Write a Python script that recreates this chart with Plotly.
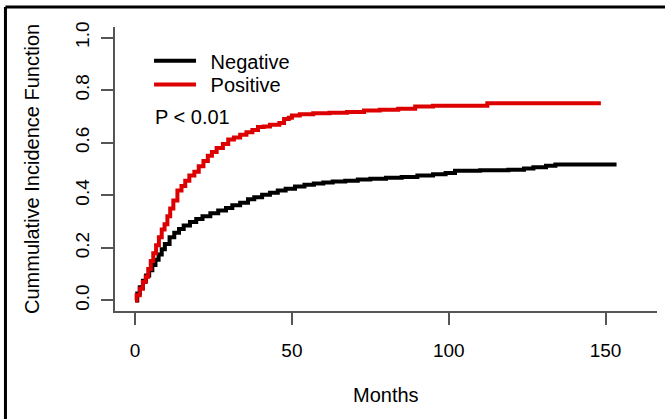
import plotly.graph_objects as go

# Cumulative incidence step curves (months, CIF)
neg_t = [0, 0.7, 1.5, 2.5, 3.5, 4.5, 5.5, 6.5, 7.5, 8.5, 9.5, 11, 12.5, 14, 15.5, 17.5,
         19.5, 21.5, 24, 26.5, 29, 31, 33.5, 36, 38, 40.5, 43, 45.5, 48, 51, 54, 57, 60,
         63, 67, 71, 75, 80, 85, 90, 95, 99, 102, 110, 119, 124, 127, 131, 134, 153.5]
neg_v = [0, 0.027, 0.05, 0.075, 0.095, 0.115, 0.135, 0.155, 0.175, 0.195, 0.215, 0.24,
         0.258, 0.272, 0.285, 0.298, 0.31, 0.32, 0.332, 0.342, 0.352, 0.362, 0.372, 0.385,
         0.393, 0.402, 0.41, 0.418, 0.425, 0.433, 0.44, 0.445, 0.449, 0.452, 0.455, 0.46,
         0.463, 0.467, 0.47, 0.475, 0.48, 0.485, 0.493, 0.495, 0.497, 0.502, 0.507, 0.512,
         0.517, 0.517]

pos_t = [0, 0.5, 1.5, 2.5, 3.4, 4.2, 5, 5.8, 6.7, 7.6, 8.5, 9.4, 10.3, 11.2, 12.2, 13.5,
         14.8, 16, 17.3, 18.9, 20.3, 21.8, 23.2, 24.5, 26, 28, 29.7, 31.5, 33.5, 35.5, 37.4,
         39.2, 41, 43, 46, 47.5, 49, 50, 52.5, 56.8, 62, 67.6, 73, 78, 83.9, 89.3, 95,
         112.3, 148.5]
pos_v = [0, 0.02, 0.045, 0.07, 0.09, 0.12, 0.15, 0.18, 0.21, 0.24, 0.27, 0.29, 0.32, 0.35,
         0.38, 0.418, 0.435, 0.455, 0.475, 0.49, 0.51, 0.53, 0.55, 0.565, 0.58, 0.595, 0.612,
         0.62, 0.63, 0.64, 0.648, 0.66, 0.662, 0.668, 0.675, 0.69, 0.695, 0.703, 0.708,
         0.712, 0.714, 0.717, 0.722, 0.725, 0.729, 0.738, 0.741, 0.75, 0.75]

x_ticks = [0, 50, 100, 150]
y_ticks = [0.0, 0.2, 0.4, 0.6, 0.8, 1.0]
y_tick_labels = ["0.0", "0.2", "0.4", "0.6", "0.8", "1.0"]

FONT = "Liberation Sans, Arial, Helvetica, sans-serif"
AXIS_COL = "#555555"
PAD = "\u00a0\u2009"

fig = go.Figure()
fig.add_trace(go.Scatter(x=neg_t, y=neg_v, mode="lines", name=PAD + "Negative",
                         legend="legend",
                         line=dict(color="black", width=4, shape="hv")))
fig.add_trace(go.Scatter(x=pos_t, y=pos_v, mode="lines", name=PAD + "Positive",
                         legend="legend2",
                         line=dict(color="#dd0000", width=4, shape="hv")))

leg_common = dict(xanchor="left", yanchor="top", bgcolor="rgba(0,0,0,0)",
                  font=dict(size=20), itemwidth=42, borderwidth=0)

fig.update_layout(
    width=665, height=419,
    margin=dict(l=115, r=8, t=27, b=108),
    paper_bgcolor="white", plot_bgcolor="white",
    font=dict(family=FONT, size=20, color="black"),
    showlegend=True,
    legend=dict(x=0.0628, y=0.95, **leg_common),
    legend2=dict(x=0.0628, y=0.866, **leg_common),
    xaxis=dict(range=[-6.4, 166.4], tickvals=x_ticks, ticks="outside", ticklen=12,
               tickwidth=1.5, tickcolor=AXIS_COL, showline=True, linecolor=AXIS_COL,
               linewidth=1.5, showgrid=False, zeroline=False, ticklabelstandoff=9,
               tickfont=dict(size=19)),
    yaxis=dict(range=[-0.04, 1.04], tickvals=y_ticks, ticktext=y_tick_labels,
               ticks="outside", ticklen=12, tickwidth=1.5, tickcolor=AXIS_COL,
               showline=True, linecolor=AXIS_COL, linewidth=1.5, showgrid=False,
               zeroline=False, tickangle=-90, ticklabelstandoff=5,
               tickfont=dict(size=19)),
    annotations=[
        dict(text="P < 0.01", x=0.07, y=0.682, xref="paper", yref="paper",
             xanchor="left", yanchor="middle", showarrow=False, font=dict(size=20)),
        dict(text="Months", x=0.5, y=-0.2975, xref="paper", yref="paper",
             xanchor="center", yanchor="middle", showarrow=False, font=dict(size=20)),
        dict(text="Cummulative Incidence Function", x=-0.1532, y=0.5, xref="paper",
             yref="paper", xanchor="center", yanchor="middle", textangle=-90,
             showarrow=False, font=dict(size=20)),
    ],
    shapes=[
        dict(type="line", xref="paper", yref="paper", x0=-0.2021, x1=1.02,
             y0=1.0704, y1=1.0704, line=dict(color="black", width=3)),
        dict(type="line", xref="paper", yref="paper", x0=-0.2021, x1=-0.2021,
             y0=1.0704, y1=-0.39, line=dict(color="black", width=3)),
    ],
)

fig.write_html("out.html", config={"displayModeBar": False},
               post_script="document.body.style.margin='0';document.body.style.padding='0';")
